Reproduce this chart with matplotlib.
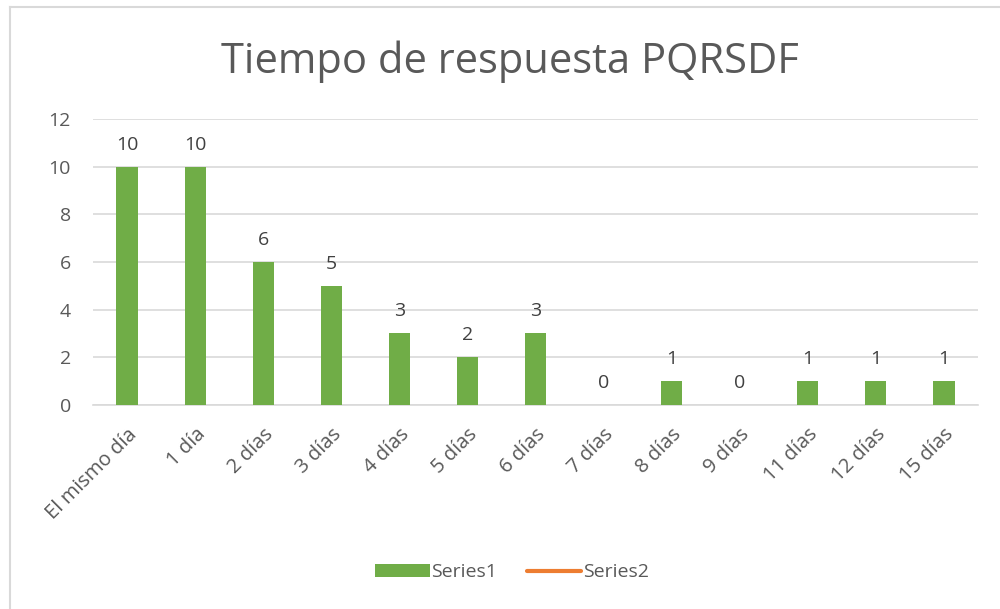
import matplotlib
matplotlib.use("Agg")
import matplotlib.pyplot as plt
from matplotlib.lines import Line2D
from matplotlib.patches import Patch

categories = ["El mismo día", "1 día", "2 días", "3 días", "4 días", "5 días",
              "6 días", "7 días", "8 días", "9 días", "11 días", "12 días", "15 días"]
series1 = [10, 10, 6, 5, 3, 2, 3, 0, 1, 0, 1, 1, 1]
yticks = [0, 2, 4, 6, 8, 10, 12]

plt.rcParams['font.family'] = ['Open Sans', 'DejaVu Sans']
txt = '#595959'
green = '#70AD47'
orange = '#ED7D31'

fig = plt.figure(figsize=(10, 6.09), dpi=100)
ax = fig.add_axes([0.093, 0.335, 0.885, 0.4696])
x = range(len(categories))
bars = ax.bar(x, series1, width=0.31, color=green, zorder=3)
for xi, v in zip(x, series1):
    ax.text(xi, v + 0.55, str(v), ha='center', va='bottom', fontsize=14, color='#404040')
ax.set_xlim(-0.5, len(categories) - 0.5)
ax.set_ylim(0, 12)
ax.set_yticks(yticks)
ax.set_xticks(list(x))
ax.set_xticklabels(categories, rotation=45, ha='right', rotation_mode='anchor', fontsize=14.5, color=txt)
ax.tick_params(axis='y', labelsize=14, labelcolor=txt, length=0, pad=16)
ax.tick_params(axis='x', length=0, pad=14)
ax.grid(axis='y', color='#D9D9D9', linewidth=1.2, zorder=0)
for s in ['top', 'right', 'left']:
    ax.spines[s].set_visible(False)
ax.spines['bottom'].set_color('#D9D9D9')
ax.spines['bottom'].set_linewidth(1.2)

fig.text(0.51, 0.898, "Tiempo de respuesta PQRSDF", ha='center', va='center', fontsize=30, color=txt)

handles = [Patch(facecolor=green, label='Series1'),
           Line2D([0], [0], color=orange, lw=3, solid_capstyle='round', label='Series2')]
fig.legend(handles=handles, loc='center', bbox_to_anchor=(0.512, 0.06), ncol=2, frameon=False,
           fontsize=14, labelcolor=txt, handlelength=2.8, handleheight=0.65, handletextpad=0.1,
           columnspacing=1.5)

fig.add_artist(Line2D([0.010, 0.010], [0, 0.989], transform=fig.transFigure, color='#D9D9D9', lw=1.5))
fig.add_artist(Line2D([0.010, 1.0], [0.989, 0.989], transform=fig.transFigure, color='#D9D9D9', lw=1.5))

fig.savefig("out.png", dpi=100)
